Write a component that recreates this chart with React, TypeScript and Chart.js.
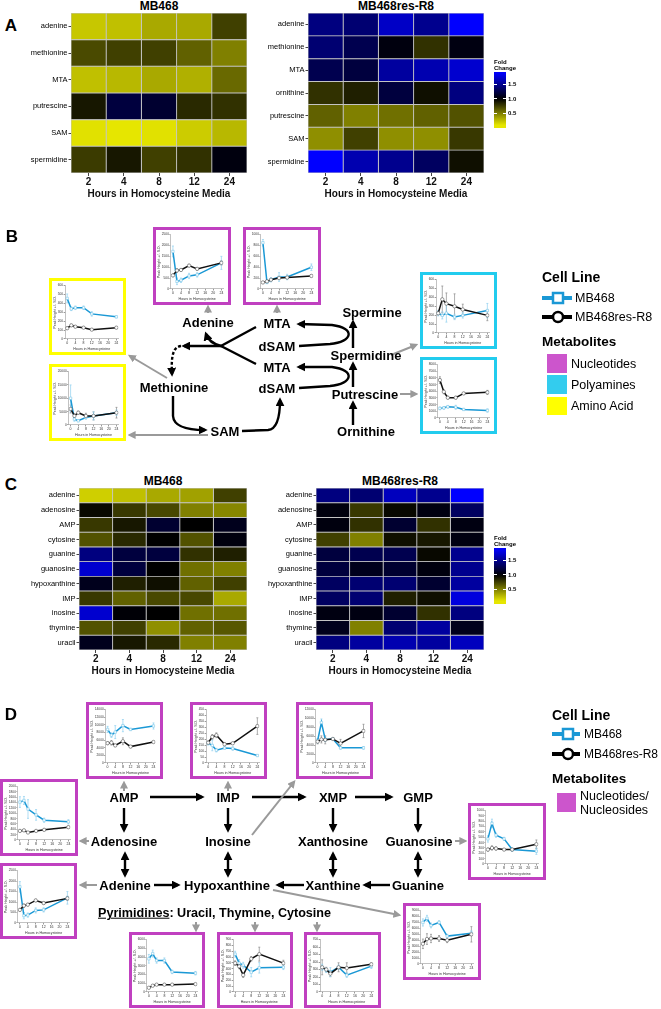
import React, { useEffect, useRef } from 'react';
import { Chart, registerables } from 'chart.js';

Chart.register(...registerables);
const FONT = '"Liberation Sans", Arial, Helvetica, sans-serif';
Chart.defaults.font.family = FONT;

// ---------- Heatmap data (fold change) ----------
const hourLabels = ['2', '4', '8', '12', '24'];
const aRows468 = ['adenine', 'methionine', 'MTA', 'putrescine', 'SAM', 'spermidine'];
const aFold468 = [
  [0.22, 0.25, 0.34, 0.34, 0.75],
  [0.71, 0.75, 0.75, 0.62, 0.5],
  [0.25, 0.28, 0.34, 0.31, 0.59],
  [0.91, 1.22, 1.17, 0.84, 0.81],
  [0.12, 0.1, 0.12, 0.2, 0.28],
  [0.77, 0.91, 0.75, 0.81, 1.05],
];
const aRowsRes = ['adenine', 'methionine', 'MTA', 'ornithine', 'putrescine', 'SAM', 'spermidine'];
const aFoldRes = [
  [1.45, 1.4, 1.7, 1.5, 1.9],
  [1.4, 1.28, 1.05, 0.81, 1.06],
  [1.28, 1.22, 1.56, 1.62, 1.73],
  [0.81, 0.88, 1.22, 0.94, 1.45],
  [0.62, 0.5, 0.56, 0.62, 0.68],
  [0.44, 0.75, 0.44, 0.44, 0.78],
  [1.9, 1.62, 1.5, 1.34, 0.94],
];
const cRows = ['adenine', 'adenosine', 'AMP', 'cytosine', 'guanine', 'guanosine', 'hypoxanthine', 'IMP', 'inosine', 'thymine', 'uracil'];
const cFold468 = [
  [0.19, 0.25, 0.34, 0.37, 0.75],
  [0.97, 0.78, 0.72, 0.5, 0.47],
  [0.78, 0.91, 1.17, 1.0, 1.1],
  [0.68, 0.84, 1.0, 0.68, 1.05],
  [1.45, 1.22, 1.22, 0.81, 0.88],
  [1.73, 1.22, 1.0, 0.56, 0.5],
  [1.1, 0.88, 0.94, 0.62, 0.75],
  [0.78, 0.62, 0.72, 0.72, 0.34],
  [1.73, 1.02, 1.0, 0.56, 0.56],
  [0.68, 0.75, 0.44, 0.62, 0.66],
  [1.1, 0.91, 0.84, 0.5, 0.5],
];
const cFoldRes = [
  [1.45, 1.4, 1.67, 1.5, 1.9],
  [1.05, 0.78, 0.97, 1.06, 1.34],
  [1.05, 0.81, 1.17, 0.81, 1.06],
  [0.75, 0.5, 0.94, 0.91, 1.06],
  [1.22, 1.28, 1.28, 0.97, 1.5],
  [1.22, 1.1, 1.17, 1.05, 1.5],
  [1.34, 1.4, 1.4, 1.17, 1.56],
  [1.34, 1.4, 0.88, 0.94, 1.78],
  [1.06, 1.06, 1.17, 0.81, 1.45],
  [1.1, 0.5, 1.4, 1.56, 1.1],
  [1.45, 1.56, 1.62, 1.56, 1.67],
];
const colorbarTicks = ['1.5', '1.0', '0.5'];
const colorbarMax = 1.93;
const colorbarMin = 0.0;

// ---------- Time-course data (peak height) ----------
const miniHours = [0, 2, 4, 8, 12, 24];
const miniXTicks = [0, 4, 8, 12, 16, 20, 24];

const bMetBlue = [456, 339, 351, 351, 282, 249];
const bMetBlueErr = [50, 20, 20, 20, 25, 12];
const bMetBlack = [121, 153, 138, 127, 105, 127];
const bMetBlackErr = [15, 12, 10, 8, 8, 10];

const bSamBlue = [10000, 2200, 1600, 2800, 3400, 4600];
const bSamBlueErr = [5000, 800, 400, 600, 1500, 1000];
const bSamBlack = [6000, 3400, 4600, 3400, 3400, 4600];
const bSamBlackErr = [1500, 800, 600, 1000, 1500, 2000];

const bAdeBlue = [1725, 350, 400, 600, 650, 1200];
const bAdeBlueErr = [250, 150, 100, 120, 100, 300];
const bAdeBlack = [625, 850, 875, 1075, 925, 1200];
const bAdeBlackErr = [60, 80, 60, 60, 60, 100];

const bMtaBlue = [850, 120, 170, 220, 220, 400];
const bMtaBlueErr = [60, 20, 40, 80, 50, 60];
const bMtaBlack = [120, 140, 170, 200, 210, 240];
const bMtaBlackErr = [20, 20, 20, 20, 20, 20];

const bSpdBlue = [222, 198, 222, 180, 198, 252];
const bSpdBlueErr = [30, 40, 100, 30, 30, 80];
const bSpdBlack = [222, 378, 330, 300, 264, 198];
const bSpdBlackErr = [20, 150, 120, 140, 60, 60];

const bPutBlue = [1440, 1520, 1680, 1600, 1280, 1120];
const bPutBlueErr = [200, 200, 200, 300, 150, 250];
const bPutBlack = [5680, 3920, 3040, 3040, 3680, 3840];
const bPutBlackErr = [500, 300, 200, 200, 150, 300];

const dAmpBlue = [8800, 7300, 8100, 9800, 8800, 9700];
const dAmpBlueErr = [800, 600, 1700, 1600, 300, 800];
const dAmpBlack = [5200, 5300, 4600, 5700, 4300, 5500];
const dAmpBlackErr = [400, 600, 300, 900, 300, 200];

const dImpBlue = [166, 148, 108, 126, 122, 63];
const dImpBlueErr = [15, 45, 15, 10, 15, 5];
const dImpBlack = [171, 220, 234, 158, 166, 311];
const dImpBlackErr = [15, 20, 20, 15, 10, 70];

const dInoBlue = [5000, 9100, 5300, 5400, 3400, 3400];
const dInoBlueErr = [500, 800, 500, 300, 300, 300];
const dInoBlack = [4800, 5300, 5200, 5400, 4400, 7200];
const dInoBlackErr = [500, 800, 900, 300, 900, 1500];

const dAdoBlue = [1420, 1480, 1160, 940, 740, 680];
const dAdoBlueErr = [200, 150, 350, 200, 80, 80];
const dAdoBlack = [340, 360, 280, 340, 380, 480];
const dAdoBlackErr = [40, 40, 30, 30, 30, 40];

const dAdeBlue = [1725, 350, 375, 600, 625, 1200];
const dAdeBlueErr = [250, 150, 100, 120, 100, 300];
const dAdeBlack = [625, 825, 875, 1075, 950, 1175];
const dAdeBlackErr = [60, 80, 60, 60, 60, 100];

const dGuoBlue = [470, 760, 540, 470, 270, 240];
const dGuoBlueErr = [60, 80, 40, 30, 30, 60];
const dGuoBlack = [270, 300, 290, 270, 270, 370];
const dGuoBlackErr = [30, 40, 30, 20, 30, 80];

const dHypBlue = [7000, 7700, 6500, 7000, 4700, 5200];
const dHypBlueErr = [600, 500, 400, 300, 300, 400];
const dHypBlack = [3400, 4200, 4300, 4300, 4000, 5000];
const dHypBlackErr = [800, 900, 700, 500, 400, 1300];

const dUraBlue = [3800, 4400, 3600, 3600, 2300, 2150];
const dUraBlueErr = [500, 400, 300, 300, 200, 200];
const dUraBlack = [480, 720, 840, 840, 840, 900];
const dUraBlackErr = [60, 80, 60, 60, 60, 80];

const dThyBlue = [650, 495, 460, 340, 415, 425];
const dThyBlueErr = [50, 60, 50, 80, 90, 40];
const dThyBlack = [495, 440, 290, 570, 650, 495];
const dThyBlackErr = [40, 40, 40, 40, 120, 50];

const dCytBlue = [330, 290, 265, 330, 225, 345];
const dCytBlueErr = [40, 30, 60, 30, 30, 30];
const dCytBlack = [330, 300, 245, 330, 320, 370];
const dCytBlackErr = [100, 30, 40, 60, 70, 20];

// ---------- colours ----------
const BLUE = '#1a98d5';
const PURPLE = '#c040c0';
const CYAN = '#22ccee';
const YELLOW = '#ffff00';
const GRAY = '#9a9a9a';

function foldColor(v: number) {
  if (v >= 1) {
    const t = Math.min(1, (v - 1) / 0.9);
    return `rgb(0,0,${Math.round(255 * t)})`;
  }
  const t = Math.min(1, (1 - v) / 0.9);
  const c = Math.round(230 * t);
  return `rgb(${c},${c},0)`;
}

function Heatmap({ rows, fold, left, top, width, height, yW, padTop }: any) {
  const ref = useRef<HTMLCanvasElement>(null);
  useEffect(() => {
    const chart = new Chart(ref.current as HTMLCanvasElement, {
      type: 'bar',
      data: {
        labels: rows,
        datasets: hourLabels.map((h, j) => ({
          label: h,
          data: rows.map(() => 1),
          backgroundColor: rows.map((_: string, i: number) => foldColor(fold[i][j])),
          borderColor: '#c4c4c4',
          borderWidth: 0.8,
          borderSkipped: false,
          barPercentage: 1,
          categoryPercentage: 1,
        })),
      },
      options: {
        indexAxis: 'y',
        responsive: false,
        animation: false,
        layout: { padding: { top: padTop, right: 4, left: 0, bottom: 0 } },
        plugins: { legend: { display: false }, tooltip: { enabled: false } },
        scales: {
          x: {
            type: 'linear',
            stacked: true,
            min: 0,
            max: hourLabels.length,
            afterBuildTicks: (ax: any) => {
              ax.ticks = hourLabels.map((_, j) => ({ value: j + 0.5 }));
            },
            ticks: {
              callback: (_v: any, i: number) => hourLabels[i],
              font: { size: 10, weight: 'bold' },
              color: '#111',
              padding: 0,
              autoSkip: false,
              maxRotation: 0,
            },
            grid: { drawOnChartArea: false, drawTicks: true, tickLength: 3, color: '#444' },
            border: { display: false },
            title: {
              display: true,
              text: 'Hours in Homocysteine Media',
              font: { size: 10, weight: 'bold' },
              padding: 0,
              color: '#111',
            },
          },
          y: {
            type: 'category',
            stacked: true,
            afterFit: (ax: any) => {
              ax.width = yW;
            },
            ticks: { font: { size: 7.5 }, color: '#000', padding: 1 },
            grid: { offset: false, drawOnChartArea: false, drawTicks: true, tickLength: 2.5, color: '#444' },
            border: { display: false },
          },
        },
      } as any,
    });
    return () => chart.destroy();
  }, []);
  return (
    <canvas
      ref={ref}
      width={width}
      height={height}
      style={{ position: 'absolute', left, top, width, height }}
    />
  );
}

const errorBars = {
  id: 'errorBars',
  beforeDatasetsDraw(chart: any) {
    const ctx = chart.ctx;
    const ys = chart.scales.y;
    chart.data.datasets.forEach((ds: any, di: number) => {
      const errs = ds.errors;
      if (!errs) return;
      const meta = chart.getDatasetMeta(di);
      ctx.save();
      ctx.strokeStyle = ds.errColor;
      ctx.lineWidth = 0.7;
      meta.data.forEach((pt: any, i: number) => {
        const v = ds.data[i].y;
        const y1 = ys.getPixelForValue(Math.max(0, v - errs[i]));
        const y2 = ys.getPixelForValue(v + errs[i]);
        ctx.beginPath();
        ctx.moveTo(pt.x, y1);
        ctx.lineTo(pt.x, y2);
        ctx.moveTo(pt.x - 1, y1);
        ctx.lineTo(pt.x + 1, y1);
        ctx.moveTo(pt.x - 1, y2);
        ctx.lineTo(pt.x + 1, y2);
        ctx.stroke();
      });
      ctx.restore();
    });
  },
};

function Mini({ left, top, w, h, color, yMax, yStep, blue, blueErr, black, blackErr }: any) {
  const ref = useRef<HTMLCanvasElement>(null);
  const iw = w - 6;
  const ih = h - 6;
  useEffect(() => {
    const chart = new Chart(ref.current as HTMLCanvasElement, {
      type: 'line',
      data: {
        datasets: [
          {
            data: miniHours.map((x, i) => ({ x, y: black[i] })),
            errors: blackErr,
            errColor: '#8a8a8a',
            borderColor: '#111',
            borderWidth: 1.5,
            pointStyle: 'circle',
            pointRadius: 1.7,
            pointBackgroundColor: '#fff',
            pointBorderColor: '#555',
            pointBorderWidth: 0.6,
          },
          {
            data: miniHours.map((x, i) => ({ x, y: blue[i] })),
            errors: blueErr,
            errColor: '#8fd0ef',
            borderColor: BLUE,
            borderWidth: 1.5,
            pointStyle: 'rect',
            pointRadius: 1.7,
            pointBackgroundColor: '#fff',
            pointBorderColor: '#7cc7ea',
            pointBorderWidth: 0.6,
          },
        ] as any,
      },
      options: {
        responsive: false,
        animation: false,
        layout: { padding: { top: 2, right: 3, left: 1, bottom: 1 } },
        plugins: { legend: { display: false }, tooltip: { enabled: false } },
        scales: {
          x: {
            type: 'linear',
            min: -1,
            max: 25,
            afterBuildTicks: (ax: any) => {
              ax.ticks = miniXTicks.map((v) => ({ value: v }));
            },
            ticks: { font: { size: 3.5 }, color: '#333', padding: 0.5, maxRotation: 0, autoSkip: false },
            grid: { drawOnChartArea: false, tickLength: 1.5, color: '#999' },
            border: { color: '#999', width: 0.6 },
            title: {
              display: true,
              text: 'Hours in Homocysteine',
              font: { size: 3.6 },
              padding: { top: 1, bottom: 0 },
              color: '#333',
            },
          },
          y: {
            min: 0,
            max: yMax,
            ticks: {
              stepSize: yStep,
              font: { size: 3.2 },
              color: '#333',
              padding: 0.5,
              autoSkip: false,
              callback: (v: any) => String(v),
            },
            grid: { drawOnChartArea: false, tickLength: 1.5, color: '#999' },
            border: { color: '#999', width: 0.6 },
            title: {
              display: true,
              text: 'Peak Height +/- S.D.',
              font: { size: 3.6 },
              padding: 0,
              color: '#333',
            },
          },
        },
      } as any,
      plugins: [errorBars],
    });
    return () => chart.destroy();
  }, []);
  return (
    <div
      style={{
        position: 'absolute',
        left,
        top,
        width: w,
        height: h,
        boxSizing: 'border-box',
        border: `3px solid ${color}`,
        background: '#fff',
      }}
    >
      <canvas ref={ref} width={iw} height={ih} style={{ display: 'block', width: iw, height: ih }} />
    </div>
  );
}

function Txt({ x, y, s, w = 700, anchor = 'middle', children }: any) {
  return (
    <div
      style={{
        position: 'absolute',
        left: x,
        top: y,
        transform: anchor === 'middle' ? 'translate(-50%,-50%)' : 'translate(0,-50%)',
        fontSize: s,
        fontWeight: w,
        whiteSpace: 'nowrap',
        fontFamily: FONT,
        lineHeight: 1,
        color: '#000',
      }}
    >
      {children}
    </div>
  );
}

function ColorBar({ left, top, height }: any) {
  const stops: string[] = [];
  for (let k = 0; k <= 20; k++) {
    const v = colorbarMax - ((colorbarMax - colorbarMin) * k) / 20;
    stops.push(`${foldColor(v)} ${(k * 5).toFixed(0)}%`);
  }
  const pos = (v: number) => ((colorbarMax - v) / (colorbarMax - colorbarMin)) * height;
  return (
    <>
      <div style={{ position: 'absolute', left, top: top - 13, fontSize: 6, fontWeight: 700, lineHeight: '6px', fontFamily: FONT }}>
        Fold
        <br />
        Change
      </div>
      <div
        style={{
          position: 'absolute',
          left,
          top,
          width: 12,
          height,
          background: `linear-gradient(to bottom, ${stops.join(',')})`,
        }}
      />
      {colorbarTicks.map((t) => (
        <React.Fragment key={t}>
          <div style={{ position: 'absolute', left, top: top + pos(parseFloat(t)) - 0.5, width: 3, height: 1, background: '#fff' }} />
          <div style={{ position: 'absolute', left: left + 9, top: top + pos(parseFloat(t)) - 0.5, width: 3, height: 1, background: '#fff' }} />
          <Txt x={left + 14} y={top + pos(parseFloat(t))} s={6} anchor="start">
            {t}
          </Txt>
        </React.Fragment>
      ))}
    </>
  );
}

function Arrow({ d, gray, both, dash }: any) {
  return (
    <path
      d={d}
      fill="none"
      stroke={gray ? GRAY : '#000'}
      strokeWidth={gray ? 2 : 2.4}
      markerEnd={`url(#${gray ? 'hg' : 'hb'})`}
      markerStart={both ? 'url(#hbs)' : undefined}
      strokeDasharray={dash ? '3 2' : undefined}
    />
  );
}

function LegendCellLine({ x, y1, y2, len, textX, fs }: any) {
  return (
    <>
      <svg style={{ position: 'absolute', left: 0, top: 0, overflow: 'visible' }} width={1} height={1}>
        <line x1={x} y1={y1} x2={x + len} y2={y1} stroke={BLUE} strokeWidth={4} />
        <rect x={x + 11} y={y1 - 5} width={10} height={10} fill="#fff" stroke={BLUE} strokeWidth={2.5} />
        <line x1={x} y1={y2} x2={x + len} y2={y2} stroke="#000" strokeWidth={4} />
        <circle cx={x + 16} cy={y2} r={5} fill="#fff" stroke="#000" strokeWidth={2.5} />
      </svg>
      <Txt x={textX} y={y1} s={fs} w={400} anchor="start">
        MB468
      </Txt>
      <Txt x={textX} y={y2} s={fs} w={400} anchor="start">
        MB468res-R8
      </Txt>
    </>
  );
}

function Swatch({ x, y, w, h, color }: any) {
  return <div style={{ position: 'absolute', left: x, top: y, width: w, height: h, background: color }} />;
}

export default function App() {
  return (
    <div
      style={{
        position: 'absolute',
        left: 0,
        top: 0,
        width: 661,
        height: 1009,
        background: '#fff',
        overflow: 'hidden',
        fontFamily: FONT,
      }}
    >
      {/* Panel A */}
      <Txt x={11} y={25} s={17}>A</Txt>
      <Txt x={159} y={6} s={12}>MB468</Txt>
      <Txt x={396} y={6} s={12}>MB468res-R8</Txt>
      <Heatmap rows={aRows468} fold={aFold468} left={0} top={0} width={251} height={200} yW={71} padTop={13} />
      <Heatmap rows={aRowsRes} fold={aFoldRes} left={250} top={0} width={238} height={200} yW={58} padTop={13} />
      <ColorBar left={494} top={72} height={56} />

      {/* Panel C */}
      <Txt x={11} y={484} s={17}>C</Txt>
      <Txt x={163} y={481} s={12}>MB468</Txt>
      <Txt x={400} y={481} s={12}>MB468res-R8</Txt>
      <Heatmap rows={cRows} fold={cFold468} left={0} top={480} width={251} height={197} yW={79} padTop={8} />
      <Heatmap rows={cRows} fold={cFoldRes} left={250} top={480} width={238} height={197} yW={66} padTop={8} />
      <ColorBar left={494} top={548} height={56} />

      {/* arrows overlay */}
      <svg style={{ position: 'absolute', left: 0, top: 0 }} width={661} height={1009}>
        <defs>
          <marker id="hb" viewBox="0 0 10 10" refX="7" refY="5" markerWidth="9" markerHeight="9" markerUnits="userSpaceOnUse" orient="auto">
            <path d="M0,0 L10,5 L0,10 z" fill="#000" />
          </marker>
          <marker id="hbs" viewBox="0 0 10 10" refX="7" refY="5" markerWidth="9" markerHeight="9" markerUnits="userSpaceOnUse" orient="auto-start-reverse">
            <path d="M0,0 L10,5 L0,10 z" fill="#000" />
          </marker>
          <marker id="hg" viewBox="0 0 10 10" refX="7" refY="5" markerWidth="8" markerHeight="8" markerUnits="userSpaceOnUse" orient="auto">
            <path d="M0,0 L10,5 L0,10 z" fill={GRAY} />
          </marker>
        </defs>
        {/* Panel B */}
        <Arrow gray d="M208 313 L208 307" />
        <Arrow gray d="M277 313 L277 307" />
        <path d="M256 327 L221 346 L256 364" fill="none" stroke="#000" strokeWidth={2.4} />
        <Arrow d="M222 346 L184 346" />
        <Arrow d="M221 346 Q209 343 206 334" />
        <Arrow dash d="M181 346 C173 347 171 356 172 374" />
        <Arrow d="M173 396 L173 416 Q174 430 205 430" />
        <Arrow d="M242 431 L268 430 Q280 429 280 400" />
        <Arrow d="M299 346 L330 344 C353 342 356 328 332 325 L299 324" />
        <Arrow d="M299 388 L330 386 C353 384 356 370 332 367 L299 367" />
        <Arrow d="M353 348 L353 322" />
        <Arrow d="M353 387 L353 364" />
        <Arrow d="M353 425 L353 403" />
        <Arrow gray d="M167 378 L130 356" />
        <Arrow gray d="M208 435 L130 435" />
        <Arrow gray d="M391 355 L416 345" />
        <Arrow gray d="M400 394 L416 394" />
        {/* Panel D */}
        <Arrow d="M150 797 L202 797" />
        <Arrow d="M252 797 L304 797" />
        <Arrow d="M355 797 L391 797" />
        <Arrow d="M124 808 L124 830" />
        <Arrow d="M228 808 L228 830" />
        <Arrow d="M333 808 L333 830" />
        <Arrow d="M418 808 L418 830" />
        <Arrow both d="M125 854 L125 875" />
        <Arrow both d="M228 854 L228 875" />
        <Arrow both d="M333 854 L333 875" />
        <Arrow both d="M418 854 L418 875" />
        <Arrow d="M154 885 L178 885" />
        <Arrow d="M304 885 L278 885" />
        <Arrow d="M390 885 L365 885" />
        <Arrow gray d="M124 791 L124 783" />
        <Arrow gray d="M228 791 L228 783" />
        <Arrow gray d="M252 835 L294 782" />
        <Arrow gray d="M89 841 L81 841" />
        <Arrow gray d="M97 885 L81 885" />
        <Arrow gray d="M455 841 L465 841" />
        <Arrow gray d="M273 890 L399 915" />
        <Arrow gray d="M196 922 L196 930" />
        <Arrow gray d="M255 922 L255 930" />
        <Arrow gray d="M317 922 L317 930" />
      </svg>

      {/* Panel B */}
      <Txt x={12} y={236} s={17}>B</Txt>
      <Mini left={49} top={278} w={77} h={77} color={YELLOW} yMax={600} yStep={100} blue={bMetBlue} blueErr={bMetBlueErr} black={bMetBlack} blackErr={bMetBlackErr} />
      <Mini left={49} top={364} w={77} h={77} color={YELLOW} yMax={20000} yStep={5000} blue={bSamBlue} blueErr={bSamBlueErr} black={bSamBlack} blackErr={bSamBlackErr} />
      <Mini left={153} top={227} w={78} h={78} color={PURPLE} yMax={2500} yStep={500} blue={bAdeBlue} blueErr={bAdeBlueErr} black={bAdeBlack} blackErr={bAdeBlackErr} />
      <Mini left={243} top={227} w={78} h={78} color={PURPLE} yMax={1000} yStep={200} blue={bMtaBlue} blueErr={bMtaBlueErr} black={bMtaBlack} blackErr={bMtaBlackErr} />
      <Mini left={420} top={272} w={77} h={77} color={CYAN} yMax={600} yStep={100} blue={bSpdBlue} blueErr={bSpdBlueErr} black={bSpdBlack} blackErr={bSpdBlackErr} />
      <Mini left={420} top={357} w={77} h={77} color={CYAN} yMax={8000} yStep={1000} blue={bPutBlue} blueErr={bPutBlueErr} black={bPutBlack} blackErr={bPutBlackErr} />
      <Txt x={208} y={322} s={13}>Adenine</Txt>
      <Txt x={277} y={323} s={13}>MTA</Txt>
      <Txt x={277} y={346} s={13}>dSAM</Txt>
      <Txt x={277} y={367} s={13}>MTA</Txt>
      <Txt x={277} y={388} s={13}>dSAM</Txt>
      <Txt x={174} y={387} s={13}>Methionine</Txt>
      <Txt x={225} y={431} s={13}>SAM</Txt>
      <Txt x={372} y={312} s={13}>Spermine</Txt>
      <Txt x={366} y={355} s={13}>Spermidine</Txt>
      <Txt x={365} y={394} s={13}>Putrescine</Txt>
      <Txt x={366} y={431} s={13}>Ornithine</Txt>
      <Txt x={542} y={277} s={14} anchor="start">Cell Line</Txt>
      <LegendCellLine x={542} y1={298} y2={317} len={30} textX={575} fs={12.5} />
      <Txt x={542} y={342} s={13.5} anchor="start">Metabolites</Txt>
      <Swatch x={547} y={354} w={20} h={19} color="#cc55cc" />
      <Swatch x={547} y={375} w={20} h={19} color="#33ccee" />
      <Swatch x={547} y={397} w={20} h={18} color={YELLOW} />
      <Txt x={571} y={364} s={12.5} w={400} anchor="start">Nucleotides</Txt>
      <Txt x={571} y={385} s={12.5} w={400} anchor="start">Polyamines</Txt>
      <Txt x={571} y={406} s={12.5} w={400} anchor="start">Amino Acid</Txt>

      {/* Panel D */}
      <Txt x={11} y={714} s={17}>D</Txt>
      <Mini left={86} top={702} w={77} h={77} color={PURPLE} yMax={14000} yStep={2000} blue={dAmpBlue} blueErr={dAmpBlueErr} black={dAmpBlack} blackErr={dAmpBlackErr} />
      <Mini left={190} top={702} w={77} h={77} color={PURPLE} yMax={450} yStep={50} blue={dImpBlue} blueErr={dImpBlueErr} black={dImpBlack} blackErr={dImpBlackErr} />
      <Mini left={296} top={702} w={77} h={77} color={PURPLE} yMax={12000} yStep={2000} blue={dInoBlue} blueErr={dInoBlueErr} black={dInoBlack} blackErr={dInoBlackErr} />
      <Mini left={0} top={779} w={78} h={77} color={PURPLE} yMax={2000} yStep={200} blue={dAdoBlue} blueErr={dAdoBlueErr} black={dAdoBlack} blackErr={dAdoBlackErr} />
      <Mini left={468} top={803} w={78} h={77} color={PURPLE} yMax={1000} yStep={100} blue={dGuoBlue} blueErr={dGuoBlueErr} black={dGuoBlack} blackErr={dGuoBlackErr} />
      <Mini left={0} top={863} w={77} h={76} color={PURPLE} yMax={2500} yStep={500} blue={dAdeBlue} blueErr={dAdeBlueErr} black={dAdeBlack} blackErr={dAdeBlackErr} />
      <Mini left={403} top={903} w={78} h={77} color={PURPLE} yMax={9000} yStep={1000} blue={dHypBlue} blueErr={dHypBlueErr} black={dHypBlack} blackErr={dHypBlackErr} />
      <Mini left={129} top={932} w={76} h={76} color={PURPLE} yMax={6000} yStep={1000} blue={dUraBlue} blueErr={dUraBlueErr} black={dUraBlack} blackErr={dUraBlackErr} />
      <Mini left={217} top={932} w={76} h={76} color={PURPLE} yMax={900} yStep={100} blue={dThyBlue} blueErr={dThyBlueErr} black={dThyBlack} blackErr={dThyBlackErr} />
      <Mini left={304} top={932} w={77} h={76} color={PURPLE} yMax={700} yStep={100} blue={dCytBlue} blueErr={dCytBlueErr} black={dCytBlack} blackErr={dCytBlackErr} />
      <Txt x={124} y={797} s={13}>AMP</Txt>
      <Txt x={228} y={797} s={13}>IMP</Txt>
      <Txt x={333} y={797} s={13}>XMP</Txt>
      <Txt x={418} y={797} s={13}>GMP</Txt>
      <Txt x={124} y={841} s={13}>Adenosine</Txt>
      <Txt x={228} y={841} s={13}>Inosine</Txt>
      <Txt x={333} y={841} s={13}>Xanthosine</Txt>
      <Txt x={419} y={841} s={13}>Guanosine</Txt>
      <Txt x={125} y={885} s={13}>Adenine</Txt>
      <Txt x={227} y={885} s={13}>Hypoxanthine</Txt>
      <Txt x={333} y={885} s={13}>Xanthine</Txt>
      <Txt x={418} y={885} s={13}>Guanine</Txt>
      <Txt x={98} y={913} s={12.6} anchor="start">
        <span style={{ textDecoration: 'underline' }}>Pyrimidines</span>: Uracil, Thymine, Cytosine
      </Txt>
      <Txt x={552} y={715} s={14} anchor="start">Cell Line</Txt>
      <LegendCellLine x={552} y1={734} y2={754} len={28} textX={584} fs={12} />
      <Txt x={552} y={779} s={13.5} anchor="start">Metabolites</Txt>
      <Swatch x={557} y={793} w={19} h={19} color="#cc55cc" />
      <Txt x={580} y={796} s={12.5} w={400} anchor="start">Nucleotides/</Txt>
      <Txt x={580} y={810} s={12.5} w={400} anchor="start">Nucleosides</Txt>
    </div>
  );
}
